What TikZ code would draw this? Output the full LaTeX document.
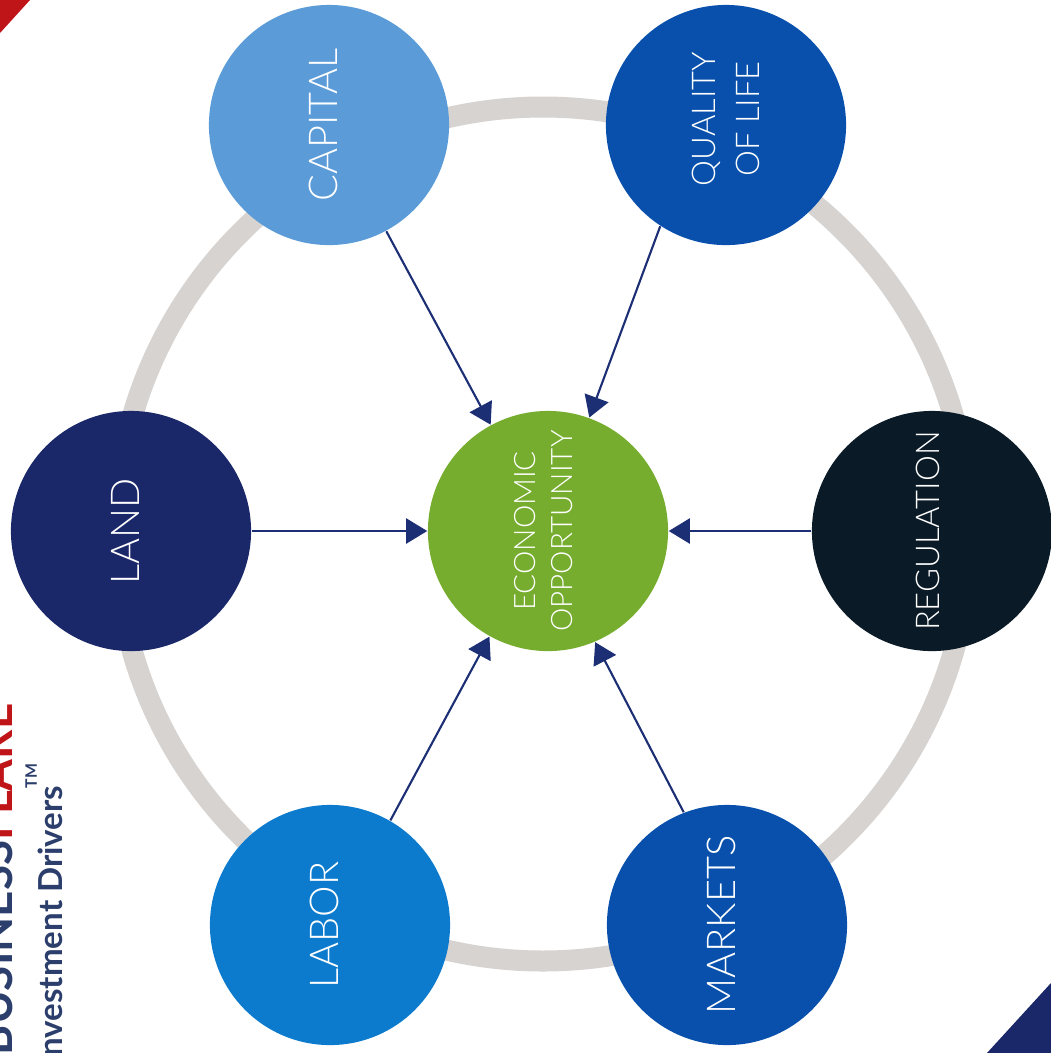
\documentclass[tikz,border=0pt]{standalone}
\usepackage{fontspec}
\setmainfont{Lato}[UprightFont=* Light, BoldFont=* Bold]
\usetikzlibrary{arrows.meta, shapes.geometric}
\definecolor{ringgray}{HTML}{D6D3D1}
\definecolor{arrownavy}{HTML}{1C2E74}
\definecolor{capblue}{HTML}{5B9BD8}
\definecolor{deepblue}{HTML}{0850AC}
\definecolor{landnavy}{HTML}{1A2768}
\definecolor{regink}{HTML}{0A1A26}
\definecolor{laborblue}{HTML}{0C7BCD}
\definecolor{econgreen}{HTML}{76AD2E}
\definecolor{flarered}{HTML}{C01518}
\definecolor{brandnavy}{HTML}{2C3E6B}
\begin{document}
\begin{tikzpicture}[
    x=0.01cm, y=-0.01cm,
    driver/.style={circle, minimum size=2.4cm, inner sep=0pt, text=white, align=center, rotate=90, text depth=3pt, font=\fontsize{11.3}{14}\selectfont},
    flow/.style={-{Triangle[length=0.21cm, width=0.25cm]}, arrownavy, line width=0.6pt},
    brand/.style={rotate=90, anchor=base east, inner sep=0pt}
  ]
    \useasboundingbox (0,0) rectangle (1051,1053);
    \clip (0,0) rectangle (1051,1053);

    % corners
    \fill[flarered] (0,0) -- (30,0) -- (0,33) -- cycle;
    \fill[landnavy] (1051,1053) -- (987,1053) -- (1051,983) -- cycle;

    % ring behind the circles
    \draw[ringgray, line width=0.21cm] (543,534) circle [radius=427];

    \node[driver, fill=capblue] (capital) at (329,125) {CAPITAL};
    \node[driver, fill=deepblue, text depth=0pt, font=\fontsize{9.3}{12.5}\selectfont] (quality) at (726,125) {\hspace*{3.4pt}QUALITY\\\hspace*{3.4pt}OF LIFE};
    \node[driver, fill=landnavy] (land) at (131,531) {LAND};
    \node[driver, fill=regink, text depth=2.2pt, font=\fontsize{9.3}{11}\selectfont] (regulation) at (932,531) {REGULATION};
    \node[driver, fill=laborblue] (labor) at (330,925) {LABOR};
    \node[driver, fill=deepblue] (markets) at (727,925) {MARKETS};
    \node[driver, fill=econgreen, text depth=2.8pt, font=\fontsize{8.4}{10.6}\selectfont] (econ) at (548,531) {ECONOMIC\\OPPORTUNITY};

    \draw[flow] (capital) -- (econ);
    \draw[flow] (quality.147) -- (econ.-20);
    \draw[flow] (land) -- (econ);
    \draw[flow] (regulation) -- (econ);
    \draw[flow] (labor.-30) -- (econ.151);
    \draw[flow] (markets.21) -- (econ.-157);

    % clipped brand line at the left edge
    \node[brand, text=brandnavy, font=\fontsize{13}{13}\selectfont\bfseries] (business) at (12.5,703) {BUSINESS\textcolor{flarered}{FLARE}};
    \node[brand, text=brandnavy, font=\fontsize{9.4}{10}\selectfont\bfseries] (drivers) at (62,785) {Investment Drivers};
    \node[brand, text=brandnavy, font=\fontsize{4.5}{5}\selectfont\bfseries] (tm) at (37,763) {TM};
\end{tikzpicture}
\end{document}
